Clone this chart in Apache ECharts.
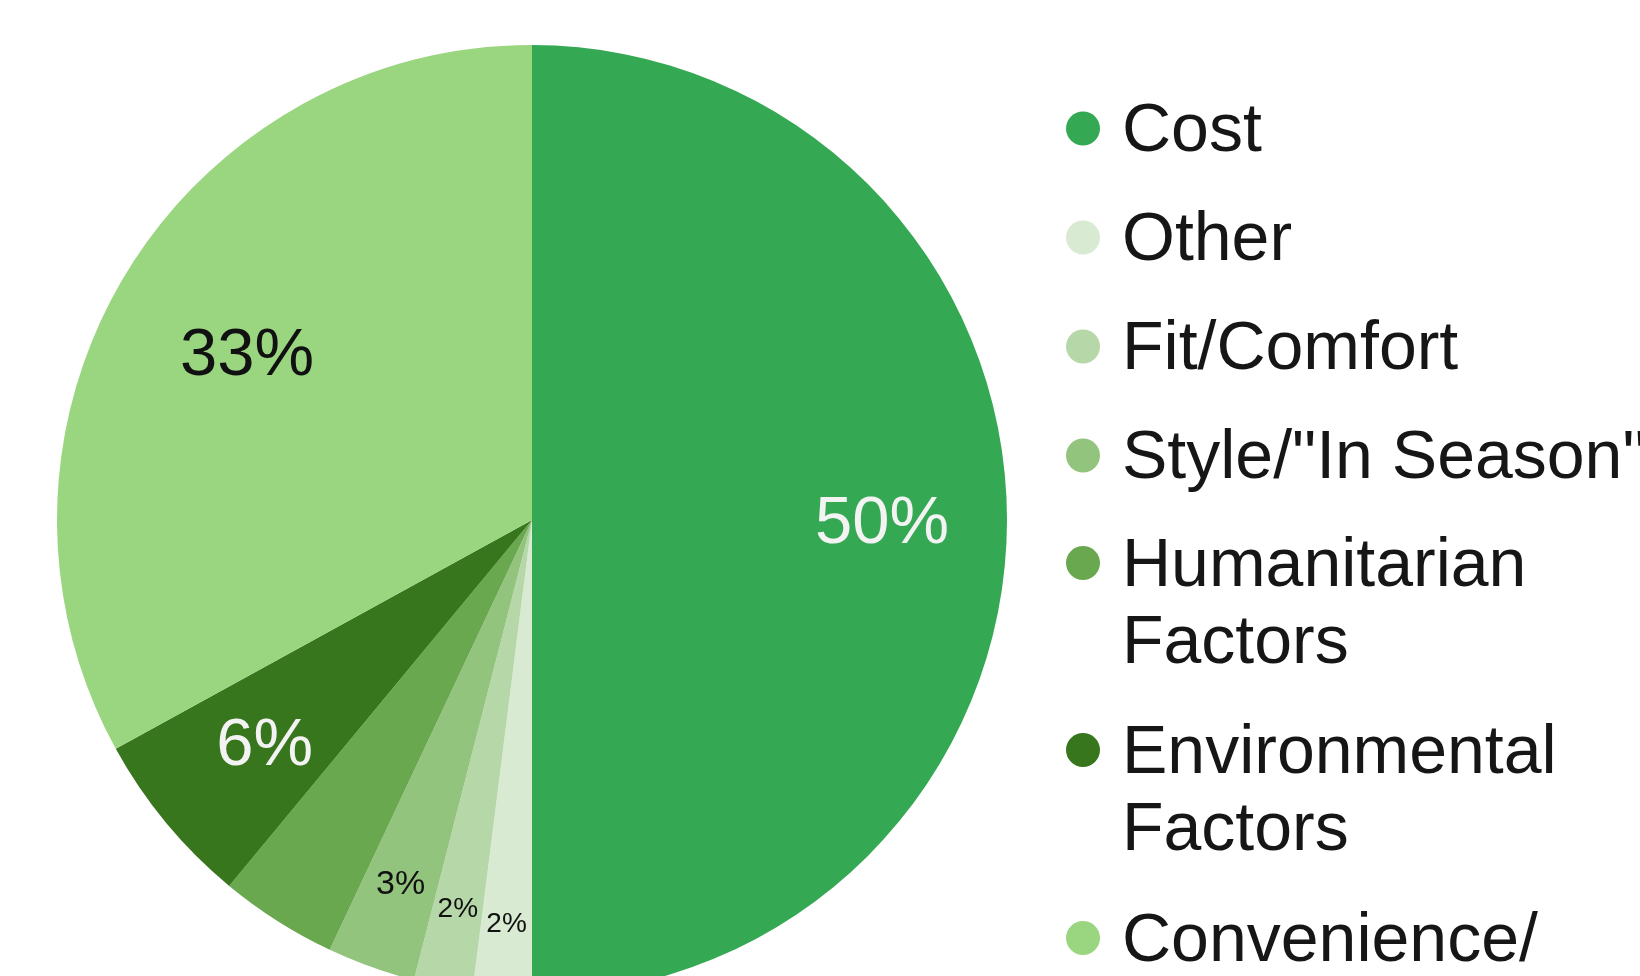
<!DOCTYPE html>
<html>
<head>
<meta charset="utf-8">
<script src="https://cdn.jsdelivr.net/npm/echarts@6/dist/echarts.min.js"></script>
<style>
  html, body { margin: 0; padding: 0; background: #ffffff; }
  #chart { width: 1640px; height: 976px; }
</style>
</head>
<body>
<div id="chart"></div>
<script>
// ---- data ----
const categories = ['Cost', 'Other', 'Fit/Comfort', 'Style/"In Season"', 'Humanitarian\nFactors', 'Environmental\nFactors', 'Convenience/'];
const values = [50, 2, 2, 3, 4, 6, 33];

// ---- styles ----
const sliceColors = ['#34a853', '#d9ead3', '#b6d7a8', '#93c47d', '#6aa84f', '#38761d', '#9ad680'];
const labelColors = ['#f3f3f3', '#111111', '#111111', '#111111', '#111111', '#f3f3f3', '#111111'];
const labelSizes = [67, 28, 28, 34, 12, 67, 67];
const labelShiftDown = [10, 0, 0, 0, 0, 10, 10];
const FONT = '"Liberation Sans", Arial, sans-serif';
const CENTER = [532, 520];
const R = 475;

// label rings: inner radius of a transparent overlay ring; labels sit mid-ring
const labelRings = [
  { r0: 219, items: [0] },
  { r0: 181, items: [6] },
  { r0: 213, items: [5] },
  { r0: 295, items: [3] },
  { r0: 311, items: [2] },
  { r0: 329, items: [1] }
];

const mainSeries = {
  type: 'pie',
  center: CENTER,
  radius: [0, R],
  startAngle: 90,
  clockwise: true,
  label: { show: false },
  labelLine: { show: false },
  emphasis: { scale: false },
  data: categories.map((name, i) => ({ name, value: values[i], itemStyle: { color: sliceColors[i] } }))
};

const overlaySeries = labelRings.map(ring => ({
  type: 'pie',
  center: CENTER,
  radius: [ring.r0, R],
  startAngle: 90,
  clockwise: true,
  silent: true,
  z: 5,
  itemStyle: { color: 'rgba(0,0,0,0)', borderWidth: 0 },
  labelLine: { show: false },
  emphasis: { disabled: true },
  data: categories.map((name, i) => ({
    name,
    value: values[i],
    label: {
      show: ring.items.includes(i),
      position: 'inside',
      formatter: '{a|{d}%}',
      rich: {
        a: {
          color: labelColors[i],
          fontSize: labelSizes[i],
          fontFamily: FONT,
          padding: [labelShiftDown[i], 0, 0, 0]
        }
      }
    }
  }))
}));

const legendRich = {
  t: { fontSize: 68, lineHeight: 77, color: '#161616', fontFamily: FONT, padding: [8, 0, 0, 17] }
};

// leadBlank: add an empty line above so the icon aligns to the first text line
const legendFormatter = (leadBlank) => (name) => {
  const lines = name.split('\n').map(l => '{t|' + l + '}');
  if (leadBlank) lines.unshift('{t| }');
  return lines.join('\n');
};

const legendBase = {
  orient: 'vertical',
  left: 1066,
  padding: 0,
  icon: 'circle',
  itemWidth: 34,
  itemHeight: 34,
  itemGap: 32,
  selectedMode: false,
  textStyle: { fontSize: 68, lineHeight: 77, color: '#161616', fontFamily: FONT, rich: legendRich }
};

const option = {
  backgroundColor: '#ffffff',
  animation: false,
  legend: [
    Object.assign({}, legendBase, { top: 90, data: categories.slice(0, 4), formatter: legendFormatter(false) }),
    Object.assign({}, legendBase, { top: 447.5, data: [categories[4]], formatter: legendFormatter(true) }),
    Object.assign({}, legendBase, { top: 634.5, data: [categories[5]], formatter: legendFormatter(true) }),
    Object.assign({}, legendBase, { top: 899.5, data: [categories[6]], formatter: legendFormatter(false) })
  ],
  series: [mainSeries].concat(overlaySeries)
};

const chart = echarts.init(document.getElementById('chart'), null, { renderer: 'canvas' });
chart.setOption(option);
</script>
</body>
</html>
